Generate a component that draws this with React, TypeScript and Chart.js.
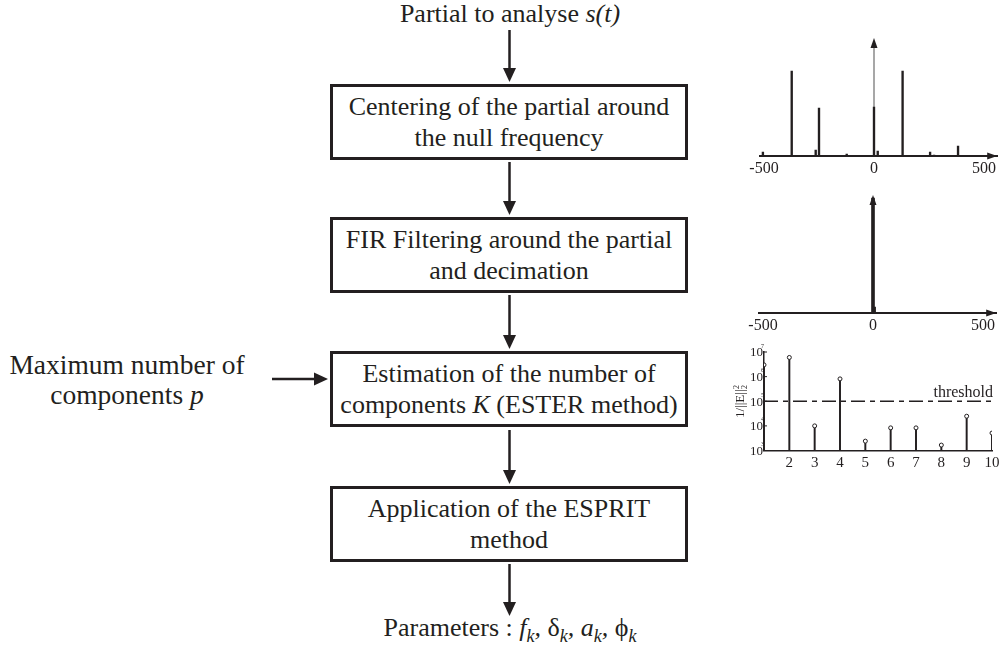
import React, { useEffect, useRef } from "react";
import { Chart, registerables } from "chart.js";

Chart.register(...registerables);

// ---------- data ----------
// spectrum of the partial before centering (frequency, amplitude)
const spec1Freqs = [-505, -374, -265, -250, -124, 0, 17, 130, 255, 273, 382];
const spec1Amps = [4, 85, 6, 48, 2, 49, 5, 85, 4, 1, 10];
// spectrum after FIR filtering and decimation
const spec2Freqs = [0, 5];
const spec2Amps = [115, 6];
const specTicks = [-500, 0, 500];

// ESTER criterion 1/||E||^2 versus model order
const esterOrders = [1, 2, 3, 4, 5, 6, 7, 8, 9, 10];
const esterValues = [3.0e6, 6.0e6, 1.0e4, 8.1e5, 2.4e3, 8.3e3, 8.3e3, 1.66e3, 2.47e4, 5.1e3];
const esterTicks = [2, 3, 4, 5, 6, 7, 8, 9, 10];
const esterDecades = [3, 4, 5, 6, 7];
const esterThreshold = 1e5;

// ---------- style ----------
const SERIF = '"Liberation Serif", "Times New Roman", serif';
const INK = "#231f20";

function ChartBox({ x, y, w, h, make }: { x: number; y: number; w: number; h: number; make: () => any }) {
  const ref = useRef<HTMLCanvasElement>(null);
  useEffect(() => {
    const chart = new Chart(ref.current as HTMLCanvasElement, make());
    return () => chart.destroy();
  }, []);
  return (
    <canvas
      ref={ref}
      width={w}
      height={h}
      style={{ position: "absolute", left: x, top: y, width: w, height: h }}
    />
  );
}

const axisArrows = (axisColor: string, axisWidth: number) => ({
  id: "axisArrows",
  beforeDatasetsDraw(chart: any) {
    const { ctx, chartArea, scales } = chart;
    const x0 = scales.x.getPixelForValue(0);
    ctx.save();
    ctx.strokeStyle = axisColor;
    ctx.lineWidth = axisWidth;
    ctx.beginPath();
    ctx.moveTo(x0, chartArea.bottom);
    ctx.lineTo(x0, chartArea.top + 6);
    ctx.stroke();
    ctx.restore();
  },
  afterDraw(chart: any) {
    const { ctx, chartArea, scales } = chart;
    const x0 = scales.x.getPixelForValue(0);
    ctx.save();
    ctx.fillStyle = INK;
    ctx.beginPath();
    ctx.moveTo(x0, chartArea.top);
    ctx.lineTo(x0 - 3.5, chartArea.top + 10);
    ctx.lineTo(x0 + 3.5, chartArea.top + 10);
    ctx.closePath();
    ctx.fill();
    const yb = chartArea.bottom;
    const xr = chartArea.right;
    ctx.beginPath();
    ctx.moveTo(xr, yb);
    ctx.lineTo(xr - 10, yb - 3.5);
    ctx.lineTo(xr - 10, yb + 3.5);
    ctx.closePath();
    ctx.fill();
    ctx.restore();
  },
});

function spectrumConfig(
  freqs: number[],
  amps: number[],
  thickness: number,
  pad: { left: number; right: number; top: number },
  axisHeight: number,
  axisColor: string,
  axisWidth: number
) {
  return {
    type: "bar",
    data: {
      datasets: [
        {
          data: freqs.map((f, i) => ({ x: f, y: amps[i] })),
          backgroundColor: INK,
          borderWidth: 0,
          barThickness: thickness,
        },
      ],
    },
    options: {
      animation: false,
      responsive: false,
      devicePixelRatio: 1,
      layout: { padding: { left: pad.left, right: pad.right, top: pad.top, bottom: 0 } },
      plugins: { legend: { display: false }, tooltip: { enabled: false } },
      scales: {
        x: {
          type: "linear",
          min: -520,
          max: 560,
          offset: false,
          grid: { display: false, drawTicks: false, offset: false },
          border: { display: true, color: INK, width: 2 },
          ticks: {
            font: { family: SERIF, size: 16 },
            color: INK,
            padding: 3,
            maxRotation: 0,
            autoSkip: false,
            callback: (v: any) => String(v),
          },
          afterBuildTicks: (s: any) => {
            s.ticks = specTicks.map((v) => ({ value: v }));
          },
          afterFit: (s: any) => {
            s.height = axisHeight;
          },
        },
        y: { display: false, min: 0, max: 118 },
      },
    },
    plugins: [axisArrows(axisColor, axisWidth)],
  };
}

const esterDecor = {
  id: "esterDecor",
  afterDraw(chart: any) {
    const { ctx, chartArea, scales } = chart;
    const ys = scales.y;
    ctx.save();
    ctx.fillStyle = INK;
    ctx.strokeStyle = INK;
    esterDecades.forEach((d) => {
      const py = ys.getPixelForValue(Math.pow(10, d));
      ctx.font = `13px ${SERIF}`;
      ctx.textAlign = "right";
      ctx.textBaseline = "middle";
      ctx.fillText("10", chartArea.left - 1, py + 1);
      ctx.font = `6px ${SERIF}`;
      ctx.textAlign = "left";
      ctx.fillText(String(d), chartArea.left - 3, py - 6);
      ctx.lineWidth = 1;
      ctx.beginPath();
      ctx.moveTo(chartArea.left, py);
      ctx.lineTo(chartArea.left + 3, py);
      ctx.stroke();
    });
    // threshold label
    const ty = ys.getPixelForValue(esterThreshold);
    ctx.font = `16px ${SERIF}`;
    ctx.textAlign = "right";
    ctx.textBaseline = "alphabetic";
    ctx.fillText("threshold", chartArea.right + 1, ty - 4);
    // rotated y title 1/||E||_2^2
    ctx.translate(chartArea.left - 23, (chartArea.top + chartArea.bottom) / 2);
    ctx.rotate(-Math.PI / 2);
    ctx.font = `13px ${SERIF}`;
    ctx.textBaseline = "middle";
    ctx.textAlign = "left";
    const main = "1/||E||";
    const wm = ctx.measureText(main).width;
    const start = -(wm + 5) / 2;
    ctx.fillText(main, start, 0);
    ctx.font = `8px ${SERIF}`;
    ctx.fillText("2", start + wm + 0.5, -4);
    ctx.fillText("2", start + wm + 0.5, 4);
    ctx.restore();
  },
};

function esterConfig() {
  return {
    type: "bar",
    data: {
      datasets: [
        {
          type: "line",
          order: 0,
          data: esterOrders.map((k, i) => ({ x: k, y: esterValues[i] })),
          showLine: false,
          pointRadius: 2,
          pointBackgroundColor: "#fff",
          pointBorderColor: INK,
          pointBorderWidth: 1,
        },
        {
          type: "line",
          order: 1,
          data: [
            { x: esterOrders[0], y: esterThreshold },
            { x: esterOrders[esterOrders.length - 1], y: esterThreshold },
          ],
          borderColor: INK,
          borderWidth: 1.3,
          borderDash: [14, 5, 5, 5],
          pointRadius: 0,
        },
        {
          type: "bar",
          order: 2,
          data: esterOrders.map((k, i) => ({ x: k, y: esterValues[i] })),
          backgroundColor: INK,
          borderWidth: 0,
          barThickness: 1.3,
        },
      ],
    },
    options: {
      animation: false,
      responsive: false,
      devicePixelRatio: 1,
      layout: { padding: { left: 36, right: 15, top: 17, bottom: 0 } },
      plugins: { legend: { display: false }, tooltip: { enabled: false } },
      scales: {
        x: {
          type: "linear",
          min: 1,
          max: 10,
          offset: false,
          grid: { display: false, drawTicks: false, offset: false },
          border: { display: true, color: INK, width: 1.5 },
          ticks: {
            font: { family: SERIF, size: 15 },
            color: INK,
            padding: 4,
            maxRotation: 0,
            autoSkip: false,
          },
          afterBuildTicks: (s: any) => {
            s.ticks = esterTicks.map((v) => ({ value: v }));
          },
          afterFit: (s: any) => {
            s.height = 24.5;
          },
        },
        y: {
          type: "logarithmic",
          min: 1e3,
          max: 1e7,
          grid: { display: false, drawTicks: false },
          border: { display: true, color: INK, width: 1.5 },
          ticks: { display: false },
          afterFit: (s: any) => {
            s.width = 0;
          },
        },
      },
    },
    plugins: [esterDecor],
  };
}

// ---------- flowchart layout ----------
const BOX_LEFT = 330;
const BOX_W = 358;
const BOX_H = 76;
const CX = 509.5;

function Box({ top, children }: { top: number; children: React.ReactNode }) {
  return (
    <div
      style={{
        position: "absolute",
        left: BOX_LEFT,
        top,
        width: BOX_W,
        height: BOX_H,
        boxSizing: "border-box",
        border: `3px solid ${INK}`,
        display: "flex",
        alignItems: "center",
        justifyContent: "center",
        textAlign: "center",
        lineHeight: "31px",
        whiteSpace: "nowrap",
      }}
    >
      <div>{children}</div>
    </div>
  );
}

const Sub = ({ children }: { children: React.ReactNode }) => (
  <span style={{ fontSize: 18, fontStyle: "italic", position: "relative", top: 6 }}>{children}</span>
);

export default function App() {
  const vArrows: [number, number, number][] = [
    [CX, 30, 82],
    [CX, 162, 215],
    [CX, 295, 349],
    [CX, 430, 484],
    [CX, 564, 616],
  ];
  return (
    <div
      style={{
        position: "fixed",
        left: 0,
        top: 0,
        width: 1007,
        height: 657,
        background: "#fff",
        overflow: "hidden",
        fontFamily: SERIF,
        fontSize: 26,
        color: INK,
      }}
    >
      <svg width={1007} height={657} style={{ position: "absolute", left: 0, top: 0 }}>
        {vArrows.map(([x, y1, y2], i) => (
          <g key={i}>
            <line x1={x} y1={y1} x2={x} y2={y2 - 12} stroke={INK} strokeWidth={2.5} />
            <polygon points={`${x - 6.5},${y2 - 14} ${x + 6.5},${y2 - 14} ${x},${y2}`} fill={INK} />
          </g>
        ))}
        <line x1={272} y1={379} x2={316} y2={379} stroke={INK} strokeWidth={2.5} />
        <polygon points={`314,372.5 314,385.5 328,379`} fill={INK} />
      </svg>

      <div
        style={{
          position: "absolute",
          left: 310,
          width: 400,
          top: 1,
          lineHeight: "26px",
          textAlign: "center",
          whiteSpace: "nowrap",
        }}
      >
        Partial to analyse <i>s(t)</i>
      </div>

      <Box top={84}>
        Centering of the partial around
        <br />
        the null frequency
      </Box>
      <Box top={217}>
        FIR Filtering around the partial
        <br />
        and decimation
      </Box>
      <Box top={351}>
        Estimation of the number of
        <br />
        components <i>K</i> (ESTER method)
      </Box>
      <Box top={486}>
        Application of the ESPRIT
        <br />
        method
      </Box>

      <div
        style={{
          position: "absolute",
          left: 0,
          width: 254,
          top: 350,
          fontSize: 27.5,
          lineHeight: "30px",
          textAlign: "center",
          whiteSpace: "nowrap",
        }}
      >
        Maximum number of
        <br />
        components <i>p</i>
      </div>

      <div
        style={{
          position: "absolute",
          left: 310,
          width: 400,
          top: 613,
          lineHeight: "30px",
          textAlign: "center",
          whiteSpace: "nowrap",
        }}
      >
        Parameters : <i>f</i>
        <Sub>k</Sub>
        <i>,</i> δ<Sub>k</Sub>
        <i>,</i> <i>a</i>
        <Sub>k</Sub>
        <i>,</i> ϕ<Sub>k</Sub>
      </div>

      <ChartBox
        x={740}
        y={20}
        w={267}
        h={170}
        make={() =>
          spectrumConfig(spec1Freqs, spec1Amps, 1.7, { left: 19.6, right: 9.8, top: 18 }, 34, "#8a8a8a", 1.5)
        }
      />
      <ChartBox
        x={740}
        y={180}
        w={267}
        h={165}
        make={() =>
          spectrumConfig(spec2Freqs, spec2Amps, 3, { left: 18.6, right: 10.8, top: 15 }, 32, INK, 1.5)
        }
      />
      <ChartBox x={728} y={335} w={279} h={140} make={esterConfig} />
    </div>
  );
}
